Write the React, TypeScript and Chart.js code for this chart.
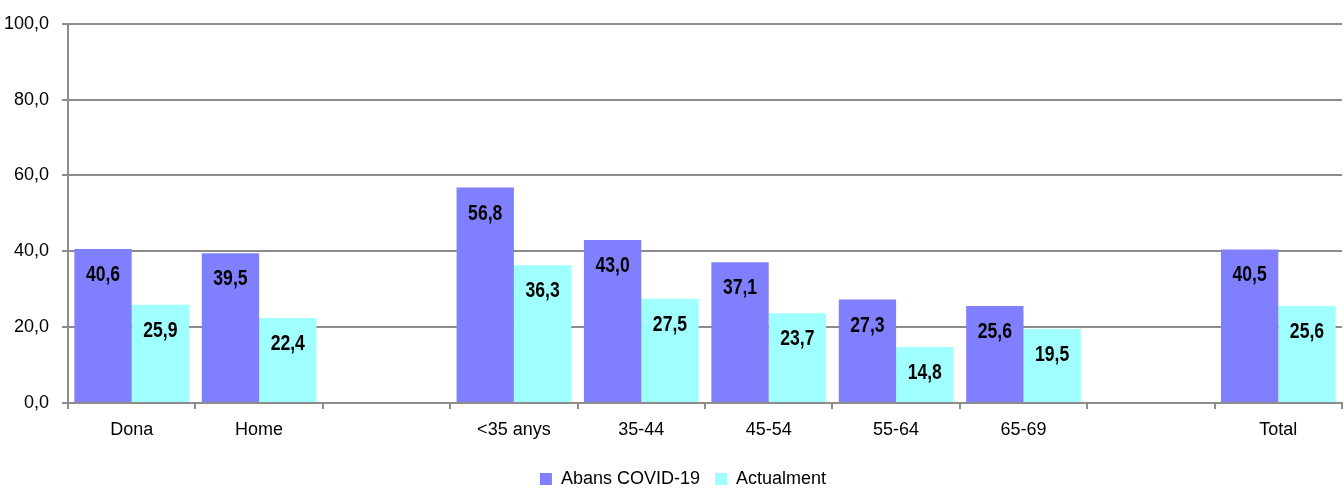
import React, { useEffect, useRef } from "react";
import { Chart, registerables } from "chart.js";

Chart.register(...registerables);

const categories = ["Dona", "Home", "", "<35 anys", "35-44", "45-54", "55-64", "65-69", "", "Total"];
const abansValues = [40.6, 39.5, null, 56.8, 43.0, 37.1, 27.3, 25.6, null, 40.5];
const actualValues = [25.9, 22.4, null, 36.3, 27.5, 23.7, 14.8, 19.5, null, 25.6];
const seriesNames = ["Abans COVID-19", "Actualment"];
const yTicks = [0, 20, 40, 60, 80, 100];

const fmt = (v: number) => v.toFixed(1).replace(".", ",");

const valueLabels = {
  id: "valueLabels",
  afterDatasetsDraw(chart: any) {
    const ctx = chart.ctx;
    chart.data.datasets.forEach((ds: any, i: number) => {
      const meta = chart.getDatasetMeta(i);
      meta.data.forEach((bar: any, j: number) => {
        const v = ds.data[j];
        if (v == null) return;
        ctx.save();
        ctx.font = "bold 22px 'Liberation Sans', Arial, sans-serif";
        ctx.fillStyle = "#000";
        ctx.textAlign = "center";
        ctx.textBaseline = "middle";
        ctx.translate(bar.x, bar.y + 26);
        ctx.scale(0.8, 1);
        ctx.fillText(fmt(v), 0, 0);
        ctx.restore();
      });
    });
  },
};

const legendShift = {
  id: "legendShift",
  afterLayout(chart: any) {
    if (chart.legend) {
      chart.legend.left += 12;
      chart.legend.right += 12;
    }
  },
};

export default function App() {
  const ref = useRef<HTMLCanvasElement | null>(null);
  useEffect(() => {
    if (!ref.current) return;
    const grid = "#8c8c8c";
    const chart = new Chart(ref.current, {
      type: "bar",
      data: {
        labels: categories,
        datasets: [
          { label: seriesNames[0], data: abansValues, backgroundColor: "#8080FF", borderWidth: 0 },
          { label: seriesNames[1], data: actualValues, backgroundColor: "#A0FFFF", borderWidth: 0 },
        ],
      },
      options: {
        animation: false,
        responsive: false,
        maintainAspectRatio: false,
        layout: { padding: { top: 19, right: 2, left: 0, bottom: -10 } },
        datasets: { bar: { categoryPercentage: 0.9, barPercentage: 1 } },
        font: { family: "'Liberation Sans', Arial, sans-serif", size: 18 },
        scales: {
          x: {
            grid: { drawOnChartArea: false, drawTicks: true, tickLength: 6, offset: true, color: grid, lineWidth: 2 },
            border: { color: grid, width: 2 },
            ticks: { color: "#000", font: { size: 18 }, padding: 10, maxRotation: 0, autoSkip: false },
            afterFit: (s: any) => { s.height = 67; },
          },
          y: {
            min: 0,
            max: 100,
            afterBuildTicks: (s: any) => { s.ticks = yTicks.map((v) => ({ value: v })); },
            grid: { color: grid, lineWidth: 2, tickLength: 6 },
            border: { color: grid, width: 2 },
            ticks: { color: "#000", font: { size: 18 }, padding: 13, callback: (v: any) => fmt(Number(v)) },
            afterFit: (s: any) => { s.width = 68; },
          },
        },
        plugins: {
          legend: {
            position: "bottom",
            labels: {
              boxWidth: 12,
              boxHeight: 12,
              color: "#000",
              font: { size: 18 },
              padding: 0,
              generateLabels: (chart: any) => {
                const items = Chart.defaults.plugins.legend.labels.generateLabels(chart);
                items.forEach((it: any, i: number) => {
                  it.lineWidth = 0;
                  if (i === 0) it.text = it.text + "   ";
                });
                return items;
              },
            },
          },
          tooltip: { enabled: false },
        },
      },
      plugins: [valueLabels, legendShift],
    } as any);
    return () => chart.destroy();
  }, []);
  return (
    <div style={{ position: "fixed", left: 0, top: 0, width: 1344, height: 488, background: "#fff" }}>
      <canvas ref={ref} width={1344} height={488} style={{ display: "block" }} />
    </div>
  );
}
